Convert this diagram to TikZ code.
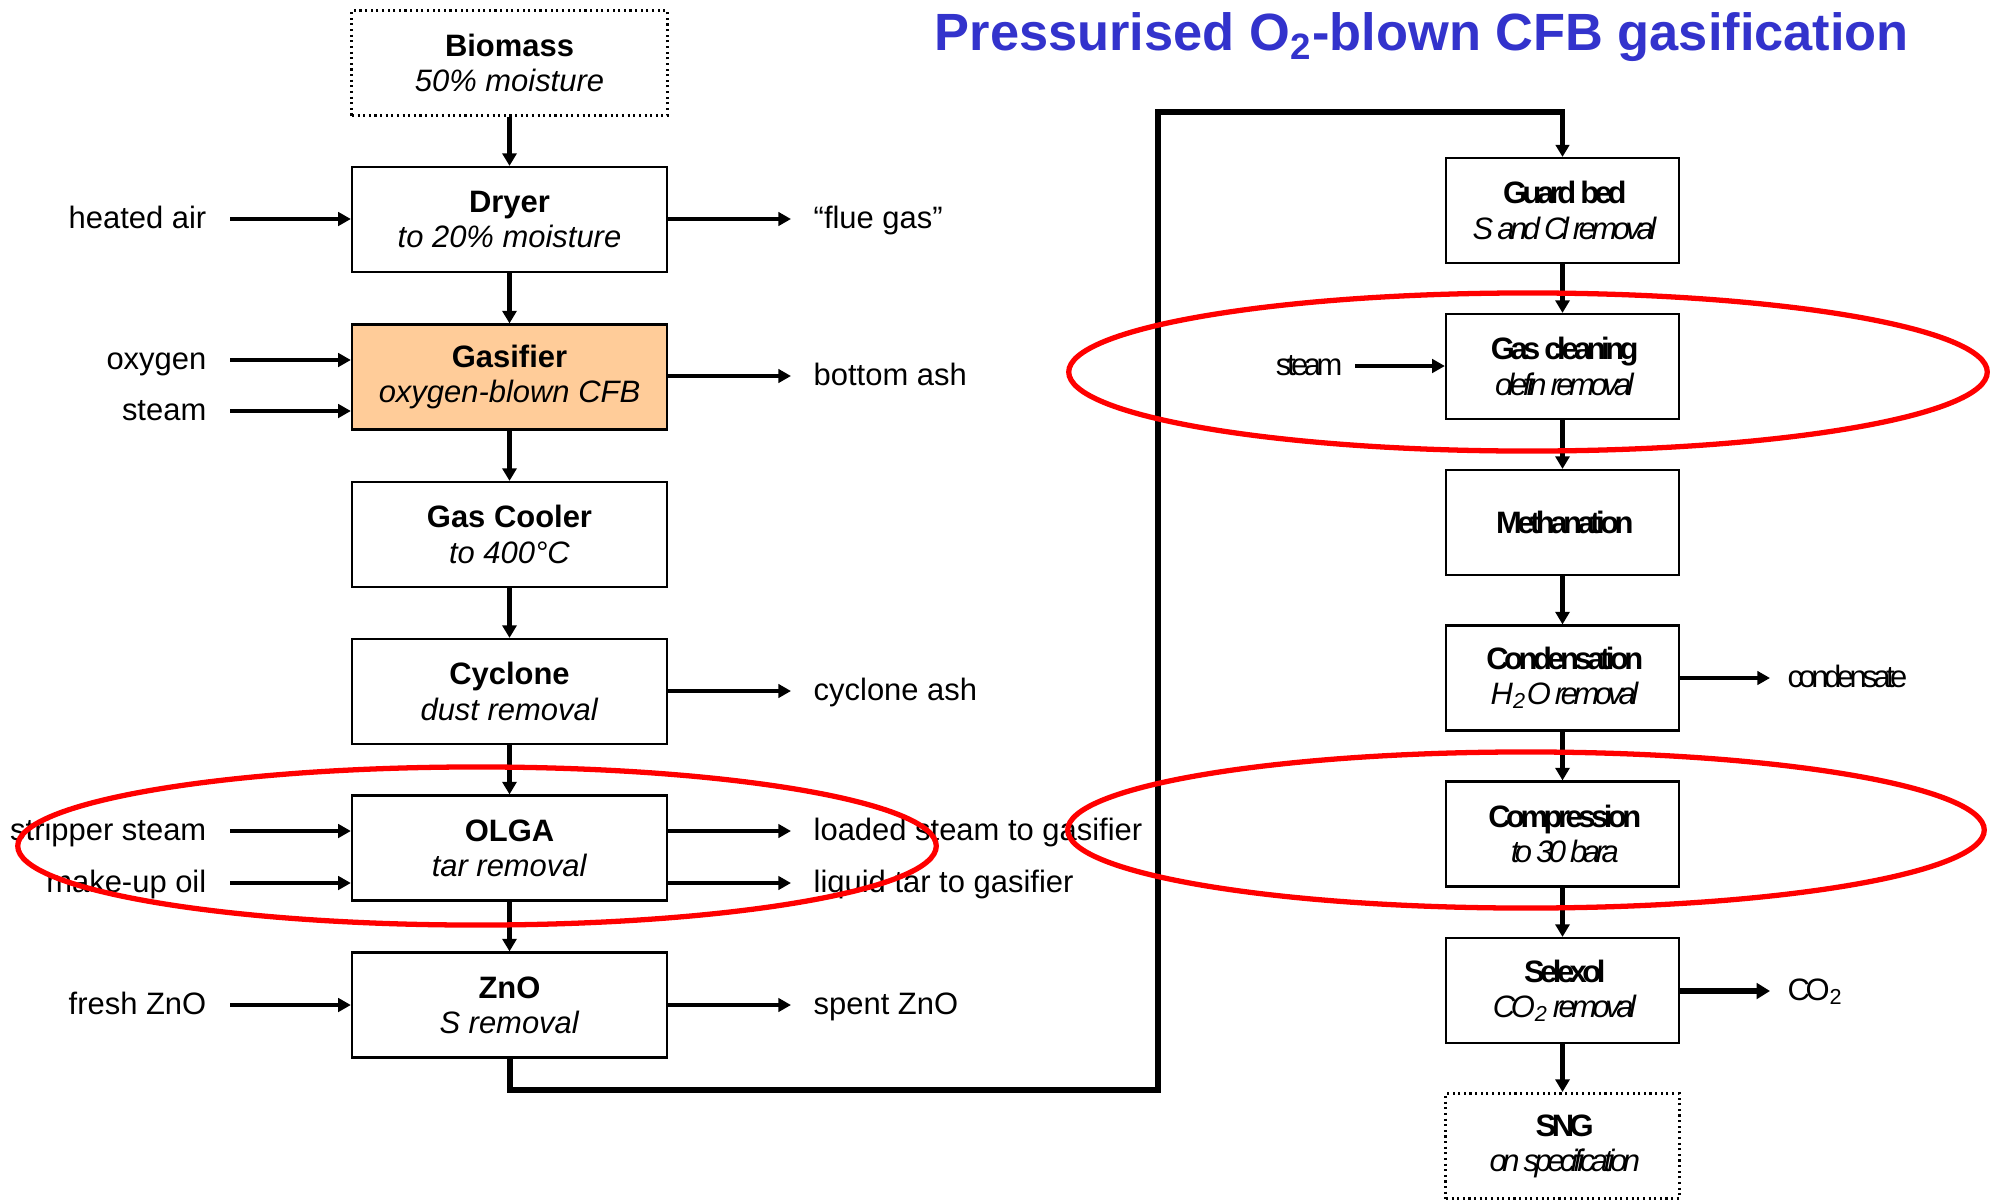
\documentclass[tikz,border=0pt]{standalone}
\usepackage{fontspec}
\setmainfont{Liberation Sans}
\newfontfamily\tightfont{Liberation Sans}[LetterSpace=-14.5]
\usetikzlibrary{arrows.meta}
\definecolor{titleblue}{RGB}{51,51,204}
\definecolor{peach}{RGB}{255,204,153}
\definecolor{ringred}{RGB}{255,0,0}

\tikzset{
  txt/.style={font=\fontsize{8.8pt}{10pt}\selectfont, inner sep=0pt},
  unitbox/.style={txt, draw, line width=0.6pt, minimum height=1.05cm, align=center},
  leftbox/.style={unitbox, minimum width=3.15cm},
  rightbox/.style={unitbox, minimum width=2.33cm, font=\tightfont\fontsize{8.8pt}{10pt}\selectfont},
  endbox/.style={densely dotted, line width=0.85pt},
  inlabel/.style={txt, anchor=base east},
  outlabel/.style={txt, anchor=base west},
  rinlabel/.style={inlabel, font=\tightfont\fontsize{8.8pt}{10pt}\selectfont},
  routlabel/.style={outlabel, font=\tightfont\fontsize{8.8pt}{10pt}\selectfont},
  flow/.style={line width=1.6pt, -{Triangle[length=3.6pt,width=4pt]}},
  side/.style={line width=0.95pt, -{Triangle[length=3.6pt,width=3.8pt]}},
  bigside/.style={line width=1.6pt, -{Triangle[length=3.8pt,width=4.4pt]}},
  pipe/.style={line width=1.6pt, line join=miter, -{Triangle[length=3.4pt,width=3.8pt]}},
  ring/.style={draw=ringred, line width=1.5pt},
}

\begin{document}
\begin{tikzpicture}[x=0.01cm, y=-0.01cm]
  \useasboundingbox (0,0) rectangle (2000,1203);
  \fill[white] (0,0) rectangle (2000,1203);

  % title
  \node[anchor=base west, inner sep=0pt, text=titleblue,
        font=\bfseries\fontsize{14.9pt}{16pt}\selectfont] (title) at (934,51)
        {Pressurised O\textsubscript{2}-blown CFB gasification};

  % left process column
  \node[leftbox, endbox] (bio) at (509.5,63) {\textbf{Biomass}\\\textit{50\% moisture}};
  \node[leftbox] (dry) at (509.5,219.5) {\textbf{Dryer}\\\textit{to 20\% moisture}};
  \node[leftbox, fill=peach] (gas) at (509.5,377) {\textbf{Gasifier}\\\textit{oxygen-blown CFB}};
  \node[leftbox] (cool) at (509.5,534.5) {\textbf{Gas Cooler}\\\textit{to 400°C}};
  \node[leftbox] (cyc) at (509.5,691.5) {\textbf{Cyclone}\\\textit{dust removal}};
  \node[leftbox] (olga) at (509.5,848) {\textbf{OLGA}\\\textit{tar removal}};
  \node[leftbox] (zno) at (509.5,1005) {\textbf{ZnO}\\\textit{S removal}};

  % right process column
  \node[rightbox] (guard) at (1562.5,210.5) {\textbf{Guard bed}\\\textit{S and Cl removal}};
  \node[rightbox] (clean) at (1562.5,366.5) {\textbf{Gas cleaning}\\\textit{olefin removal}};
  \node[rightbox] (meth) at (1562.5,522.5) {\textbf{Methanation}};
  \node[rightbox] (cond) at (1562.5,678) {\textbf{Condensation}\\\textit{H\textsubscript{2}O removal}};
  \node[rightbox] (comp) at (1562.5,834) {\textbf{Compression}\\\textit{to 30 bara}};
  \node[rightbox] (selx) at (1562.5,990.5) {\textbf{Selexol}\\\textit{CO\textsubscript{2} removal}};
  \node[rightbox, endbox] (sng) at (1562.5,1146) {\textbf{SNG}\\\textit{on specification}};

  % main flow, left column
  \draw[flow] (bio) -- (dry);
  \draw[flow] (dry) -- (gas);
  \draw[flow] (gas) -- (cool);
  \draw[flow] (cool) -- (cyc);
  \draw[flow] (cyc) -- (olga);
  \draw[flow] (olga) -- (zno);

  % transfer line between the two trains
  \coordinate (p1) at (510,1090);
  \coordinate (p2) at (1158,1090);
  \coordinate (p3) at (1158,112);
  \coordinate (p4) at (1562.5,112);
  \draw[pipe] (zno.south -| p1) -- (p1) -- (p2) -- (p3) -- (p4) -- (guard.north);

  % main flow, right column
  \draw[flow] (guard) -- (clean);
  \draw[flow] (clean) -- (meth);
  \draw[flow] (meth) -- (cond);
  \draw[flow] (cond) -- (comp);
  \draw[flow] (comp) -- (selx);
  \draw[flow] (selx) -- (sng);

  % feeds into the left column
  \node[inlabel] (lair) at (207,228) {heated air};
  \coordinate (iair) at (230,219);
  \draw[side] (iair) -- (iair -| dry.west);

  \node[inlabel] (lox) at (207,369) {oxygen};
  \coordinate (iox) at (230,360);
  \draw[side] (iox) -- (iox -| gas.west);

  \node[inlabel] (lst) at (207,420) {steam};
  \coordinate (ist) at (230,411);
  \draw[side] (ist) -- (ist -| gas.west);

  \node[inlabel] (lstrip) at (207,840) {stripper steam};
  \coordinate (istrip) at (230,831);
  \draw[side] (istrip) -- (istrip -| olga.west);

  \node[inlabel] (loil) at (207,892) {make-up oil};
  \coordinate (ioil) at (230,883);
  \draw[side] (ioil) -- (ioil -| olga.west);

  \node[inlabel] (lzno) at (207,1014) {fresh ZnO};
  \coordinate (izno) at (230,1005);
  \draw[side] (izno) -- (izno -| zno.west);

  % products from the left column
  \coordinate (oflue) at (791,219);
  \draw[side] (oflue -| dry.east) -- (oflue);
  \node[outlabel] (lflue) at (813,228) {“flue gas”};

  \coordinate (oash) at (791,376);
  \draw[side] (oash -| gas.east) -- (oash);
  \node[outlabel] (lash) at (813,385) {bottom ash};

  \coordinate (ocyc) at (791,691);
  \draw[side] (ocyc -| cyc.east) -- (ocyc);
  \node[outlabel] (lcyc) at (813,700) {cyclone ash};

  \coordinate (oload) at (791,831);
  \draw[side] (oload -| olga.east) -- (oload);
  \node[outlabel] (lload) at (813,840) {loaded steam to gasifier};

  \coordinate (otar) at (791,883);
  \draw[side] (otar -| olga.east) -- (otar);
  \node[outlabel] (ltar) at (813,892) {liquid tar to gasifier};

  \coordinate (ospent) at (791,1005);
  \draw[side] (ospent -| zno.east) -- (ospent);
  \node[outlabel] (lspent) at (813,1014) {spent ZnO};

  % streams of the right column
  \node[rinlabel] (lrst) at (1343,375) {steam};
  \coordinate (irst) at (1355,366);
  \draw[side] (irst) -- (irst -| clean.west);

  \coordinate (ocond) at (1770,678);
  \draw[side] (ocond -| cond.east) -- (ocond);
  \node[routlabel] (lcond) at (1787,687) {condensate};

  \coordinate (oco) at (1770,991);
  \draw[bigside] (oco -| selx.east) -- (oco);
  \node[routlabel] (lco) at (1787,1000) {CO\textsubscript{2}};

  % highlighted steps
  \draw[ring] (477,846) ellipse [x radius=4.59cm, y radius=0.79cm];
  \draw[ring] (1528,372) ellipse [x radius=4.59cm, y radius=0.79cm];
  \draw[ring] (1526,830) ellipse [x radius=4.58cm, y radius=0.78cm];
\end{tikzpicture}
\end{document}
